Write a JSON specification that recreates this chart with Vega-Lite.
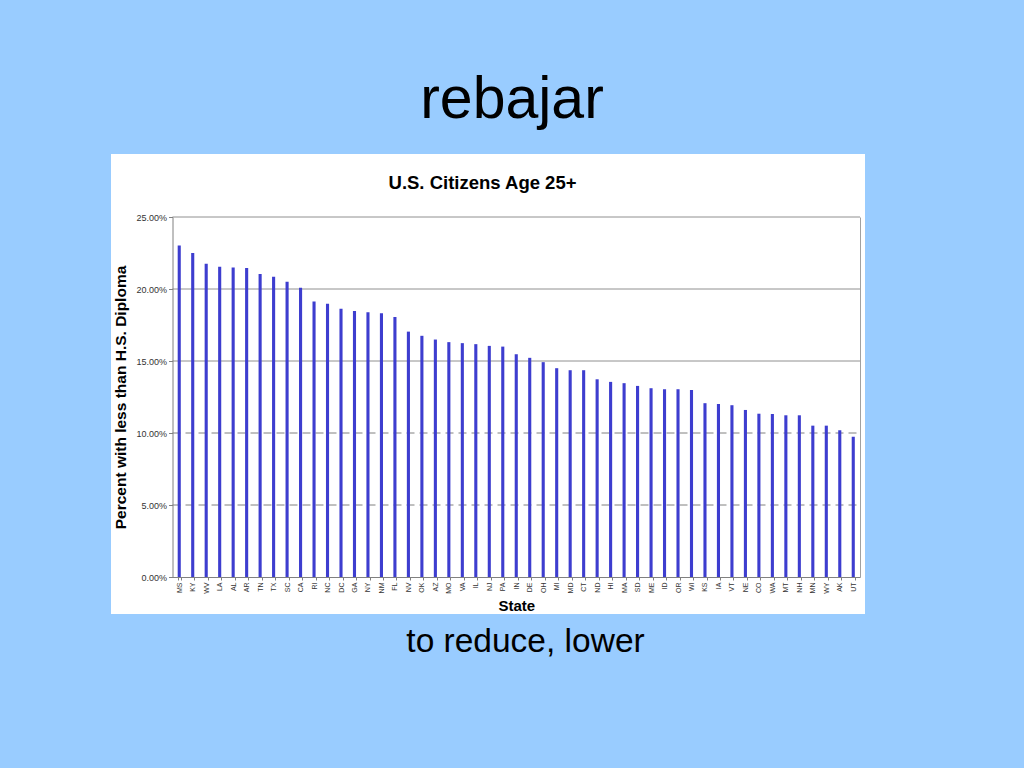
{
  "$schema": "https://vega.github.io/schema/vega-lite/v6.json",
  "width": 754,
  "height": 460,
  "autosize": {"type": "none"},
  "padding": {"left": 111, "top": 154, "right": 159, "bottom": 154},
  "background": "#99CCFF",
  "config": {
    "font": "Liberation Sans",
    "view": {"fill": "white", "stroke": null}
  },
  "title": {
    "text": "rebajar",
    "fontSize": 59,
    "fontWeight": "normal",
    "color": "black",
    "anchor": "middle",
    "frame": "group",
    "dx": 24,
    "offset": 24
  },
  "datasets": {
    "states": [
      {"state": "MS", "pct": 0.2302}, {"state": "KY", "pct": 0.2250}, {"state": "WV", "pct": 0.2175},
      {"state": "LA", "pct": 0.2154}, {"state": "AL", "pct": 0.2150}, {"state": "AR", "pct": 0.2145},
      {"state": "TN", "pct": 0.2104}, {"state": "TX", "pct": 0.2085}, {"state": "SC", "pct": 0.2050},
      {"state": "CA", "pct": 0.2008}, {"state": "RI", "pct": 0.1913}, {"state": "NC", "pct": 0.1897},
      {"state": "DC", "pct": 0.1862}, {"state": "GA", "pct": 0.1848}, {"state": "NY", "pct": 0.1839},
      {"state": "NM", "pct": 0.1832}, {"state": "FL", "pct": 0.1805}, {"state": "NV", "pct": 0.1704},
      {"state": "OK", "pct": 0.1675}, {"state": "AZ", "pct": 0.1649}, {"state": "MO", "pct": 0.1631},
      {"state": "VA", "pct": 0.1624}, {"state": "IL", "pct": 0.1617}, {"state": "NJ", "pct": 0.1605},
      {"state": "PA", "pct": 0.1600}, {"state": "IN", "pct": 0.1547}, {"state": "DE", "pct": 0.1522},
      {"state": "OH", "pct": 0.1492}, {"state": "MI", "pct": 0.1450}, {"state": "MD", "pct": 0.1436},
      {"state": "CT", "pct": 0.1436}, {"state": "ND", "pct": 0.1373}, {"state": "HI", "pct": 0.1355},
      {"state": "MA", "pct": 0.1346}, {"state": "SD", "pct": 0.1327}, {"state": "ME", "pct": 0.1311},
      {"state": "ID", "pct": 0.1304}, {"state": "OR", "pct": 0.1304}, {"state": "WI", "pct": 0.1299},
      {"state": "KS", "pct": 0.1207}, {"state": "IA", "pct": 0.1202}, {"state": "VT", "pct": 0.1193},
      {"state": "NE", "pct": 0.1160}, {"state": "CO", "pct": 0.1134}, {"state": "WA", "pct": 0.1132},
      {"state": "MT", "pct": 0.1123}, {"state": "NH", "pct": 0.1123}, {"state": "MN", "pct": 0.1051},
      {"state": "WY", "pct": 0.1051}, {"state": "AK", "pct": 0.1019}, {"state": "UT", "pct": 0.0974}
    ],
    "grid": [
      {"pct": 0.05}, {"pct": 0.10}, {"pct": 0.15}, {"pct": 0.20}, {"pct": 0.25}
    ]
  },
  "resolve": {
    "scale": {"x": "independent"},
    "axis": {"x": "independent", "y": "independent"}
  },
  "layer": [
    {
      "data": {"name": "grid"},
      "mark": {"type": "rule", "color": "#808080", "strokeWidth": 1},
      "encoding": {
        "x": {
          "datum": 0,
          "type": "quantitative",
          "scale": {"domain": [0, 1], "range": [61.5, 749]},
          "axis": {
            "orient": "top",
            "offset": 0,
            "domain": false,
            "ticks": false,
            "labels": false,
            "grid": false,
            "title": "U.S. Citizens Age 25+",
            "titleFontSize": 18.5,
            "titleFontWeight": "bold",
            "titleColor": "black",
            "titleX": 371,
            "titleY": 34,
            "titleAlign": "center",
            "titleBaseline": "alphabetic",
            "titleAnchor": null
          }
        },
        "x2": {"datum": 1},
        "y": {
          "field": "pct",
          "type": "quantitative",
          "axis": {
            "orient": "right",
            "offset": -5,
            "grid": false,
            "ticks": false,
            "labels": false,
            "domainColor": "#a0a0a0",
            "title": "to reduce, lower",
            "titleAngle": 0,
            "titleFontSize": 33.5,
            "titleFontWeight": "normal",
            "titleColor": "black",
            "titleX": -335,
            "titleY": 497,
            "titleAlign": "center",
            "titleBaseline": "alphabetic"
          }
        },
        "strokeDash": {
          "condition": {"test": "datum.pct <= 0.1", "value": [8, 5]},
          "value": [1, 0]
        }
      }
    },
    {
      "data": {"name": "states"},
      "mark": {"type": "bar", "color": "#3d3dcf"},
      "encoding": {
        "x": {
          "field": "state",
          "type": "nominal",
          "sort": null,
          "scale": {"range": [61.5, 749], "paddingInner": 0.77, "paddingOuter": 0.385},
          "axis": {
            "orient": "bottom",
            "offset": -37,
            "labelAngle": -90,
            "labelFontSize": 7,
            "labelColor": "#333333",
            "labelPadding": 2,
            "tickSize": 3,
            "tickBand": "extent",
            "tickColor": "#808080",
            "domainColor": "#808080",
            "title": "State",
            "titleFontSize": 15,
            "titleFontWeight": "bold",
            "titleColor": "black",
            "titlePadding": 5
          }
        },
        "y": {
          "field": "pct",
          "type": "quantitative",
          "scale": {"domain": [0, 0.25], "range": [423, 63], "nice": false, "zero": true},
          "axis": {
            "orient": "left",
            "offset": -61.5,
            "values": [0, 0.05, 0.10, 0.15, 0.20, 0.25],
            "format": ".2%",
            "grid": false,
            "labelFontSize": 9,
            "labelColor": "#333333",
            "labelPadding": 2,
            "tickSize": 4,
            "tickColor": "#808080",
            "domainColor": "#808080",
            "title": "Percent with less than H.S. Diploma",
            "titleFontSize": 15.5,
            "titleFontWeight": "bold",
            "titleColor": "black",
            "titlePadding": 7
          }
        }
      }
    }
  ]
}
